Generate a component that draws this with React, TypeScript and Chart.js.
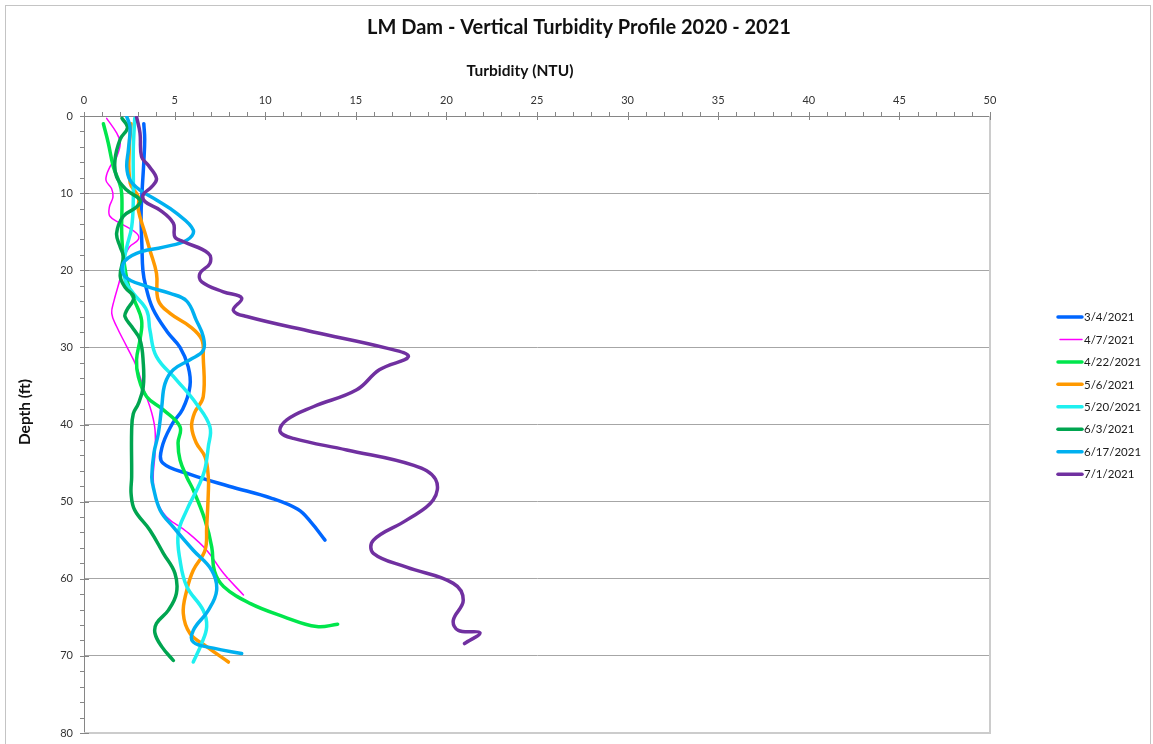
import React, { useEffect, useRef } from 'react';
import { Chart, registerables } from 'chart.js';

Chart.register(...registerables);

const chartTitle = 'LM Dam - Vertical Turbidity Profile 2020 - 2021';
const xAxisTitle = 'Turbidity (NTU)';
const yAxisTitle = 'Depth (ft)';

const seriesLabels = ['3/4/2021', '4/7/2021', '4/22/2021', '5/6/2021', '5/20/2021', '6/3/2021', '6/17/2021', '7/1/2021'];
const seriesColors = ['#0066FF', '#FF00FF', '#00E64C', '#FF9900', '#1EF0F0', '#00A550', '#00B0F0', '#7030A0'];
const seriesWidths = [3.5, 1.5, 3.5, 3.5, 3.5, 3.5, 3.5, 3.5];

// 3/4/2021
const turb0304 = [3.3, 3.35, 3.3, 3.2, 3.15, 3.2, 3.25, 3.4, 3.8, 4.6, 5.3, 5.75, 5.85, 5.45, 4.85, 4.3, 4.35, 5.9, 8.0, 10.4, 11.8, 12.5, 13.3];
const depth0304 = [1, 3, 6, 10, 13, 17, 20, 22, 25, 28, 30, 32.5, 35, 38, 40, 43, 45, 46.5, 48, 49.6, 51, 52.6, 55];
// 4/7/2021
const turb0407 = [1.25, 1.8, 2.0, 1.8, 1.43, 1.21, 1.52, 1.6, 1.4, 1.43, 2.0, 2.9, 3.0, 2.5, 2.17, 2.0, 1.65, 1.53, 1.8, 2.36, 2.9, 3.37, 3.74, 3.92, 3.92, 3.82, 4.0, 4.56, 5.67, 6.77, 7.7, 8.8];
const depth0407 = [0.3, 2.2, 3.5, 5.3, 6.6, 8.3, 9.4, 10.5, 11.8, 13, 13.9, 15.2, 16, 17, 18.7, 21, 24, 25.6, 27.3, 29.9, 32.5, 35.9, 38.5, 40.7, 43.7, 47, 49.8, 52, 53.9, 56.3, 59.3, 62.1];
// 4/22/2021
const turb0422 = [1.07, 1.34, 1.62, 1.9, 2.08, 2.08, 2.17, 2.45, 2.8, 3.18, 3.09, 2.9, 3.0, 3.46, 4.38, 5.3, 5.19, 5.3, 5.67, 6.03, 6.68, 7.05, 7.2, 7.7, 9.16, 11.0, 12.84, 14.0];
const depth0422 = [1, 3.5, 6.6, 8.3, 10, 15, 18.2, 22, 24, 26.5, 29, 31.6, 33.8, 36.4, 38.1, 40.3, 42.4, 44.6, 46.8, 48.5, 52.4, 55.9, 59, 61, 63.2, 64.9, 66.2, 65.9];
// 5/6/2021
const turb0506 = [2.6, 2.5, 2.55, 3.0, 3.0, 3.37, 3.64, 4.0, 4.1, 4.75, 5.85, 6.5, 6.58, 6.58, 6.1, 5.94, 6.2, 6.68, 6.86, 6.86, 6.77, 6.68, 6.03, 5.67, 5.48, 5.85, 6.77, 7.97];
const depth0506 = [1, 4, 8.7, 10.5, 12.2, 15.2, 17.4, 20.4, 23.9, 25.6, 27.3, 29, 31.2, 36.4, 38.5, 40.3, 42.4, 44.2, 46.8, 48.9, 53.3, 56.3, 58.9, 61.5, 64.5, 67.1, 68.8, 70.8];
// 5/20/2021
const turb0520 = [2.8, 2.72, 2.72, 2.63, 2.36, 2.17, 2.3, 2.72, 3.46, 3.64, 4.0, 5.1, 6.2, 6.95, 6.86, 6.65, 6.3, 5.67, 5.2, 5.3, 5.67, 6.58, 6.77, 6.49, 6.03];
const depth0520 = [0.3, 4.4, 10.9, 14.4, 17, 19.5, 21.5, 23, 25.2, 27.8, 31.2, 34.2, 37.3, 40.3, 42.9, 46, 48.1, 51.1, 54.1, 57.6, 61, 64.1, 66.2, 68.4, 70.8];
// 6/3/2021
const turb0603 = [2.1, 2.4, 2.0, 1.71, 1.8, 2.36, 3.09, 2.9, 2.17, 1.8, 2.0, 2.17, 2.0, 2.3, 2.75, 2.36, 2.26, 2.63, 3.09, 3.27, 3.27, 3.0, 2.72, 2.63, 2.63, 2.6, 2.8, 3.64, 4.38, 5.02, 5.1, 4.65, 4.0, 3.92, 4.29, 4.93];
const depth0603 = [0.3, 1.5, 3, 5.7, 7.9, 9.6, 10.9, 11.8, 13, 15.2, 17, 18.2, 20.8, 22.3, 23.5, 25.2, 26, 27.3, 29, 32, 35.1, 37.3, 38.6, 40.7, 46.8, 49, 51.1, 53.7, 56.7, 59.3, 61.9, 64.1, 65.8, 67.1, 68.8, 70.6];
// 6/17/2021
const turb0617 = [2.36, 2.54, 2.45, 2.36, 2.54, 3.09, 4.0, 5.1, 6.03, 5.67, 4.38, 2.9, 2.17, 2.26, 3.46, 4.75, 5.67, 6.2, 6.58, 6.58, 5.85, 4.93, 4.47, 4.29, 4.1, 3.86, 3.74, 3.82, 4.2, 4.93, 6.03, 7.05, 7.32, 6.86, 6.03, 6.03, 7.14, 8.7];
const depth0617 = [0.1, 1.4, 4.4, 6.6, 8.3, 9.6, 10.9, 12.6, 14.8, 16.1, 17, 17.8, 19.1, 20.8, 22.1, 23, 24, 26.5, 28.6, 30.4, 31.6, 32.9, 34.7, 37.7, 41.2, 43.7, 46.8, 48.1, 51.1, 53.3, 56.3, 58.9, 61.5, 64.1, 66.7, 68.2, 69, 69.7];
// 7/1/2021
const turb0701 = [2.9, 3.09, 3.18, 3.55, 4.0, 3.73, 3.27, 3.37, 4.19, 4.93, 5.02, 5.5, 6.86, 6.95, 6.4, 6.5, 7.69, 8.7, 8.24, 8.98, 12.65, 16.7, 17.9, 16.3, 15.05, 12.65, 11.19, 10.82, 11.55, 14.5, 18.2, 19.4, 19.27, 17.8, 15.97, 15.97, 17.8, 20.38, 20.93, 20.38, 20.66, 21.85, 21.0];
const depth0701 = [0.1, 2.2, 5.3, 6.4, 8.1, 9.2, 10.2, 11.1, 12.2, 13.9, 15.7, 16.3, 17.8, 19.1, 20.4, 21.5, 22.8, 23.6, 25.2, 26, 28, 30.1, 31.2, 32.9, 35.5, 37.7, 39.4, 40.9, 41.8, 43.3, 45.3, 47.1, 49.8, 52.4, 55, 56.7, 58.5, 60.6, 62.8, 65.4, 66.7, 67, 68.4];

const turbSeries = [turb0304, turb0407, turb0422, turb0506, turb0520, turb0603, turb0617, turb0701];
const depthSeries = [depth0304, depth0407, depth0422, depth0506, depth0520, depth0603, depth0617, depth0701];

const xMin = 0, xMax = 50, xStep = 5, xMinorStep = 1;
const yMin = 0, yMax = 80, yStep = 10, yMinorStep = 2;

const FONT = 'Lato, "Noto Sans", sans-serif';
const AXIS_COLOR = '#868686';
const GRID_COLOR = '#a6a6a6';
const FRAME_COLOR = '#cccccc';

const decorPlugin = {
  id: 'decor',
  beforeDraw(chart: any) {
    const { ctx, width, height } = chart;
    ctx.save();
    ctx.fillStyle = '#ffffff';
    ctx.fillRect(0, 0, width, height);
    ctx.strokeStyle = '#c4c4c4';
    ctx.lineWidth = 1;
    ctx.strokeRect(5.5, 5.5, 1145, height + 10);
    ctx.restore();
  },
  beforeDatasetsDraw(chart: any) {
    const { ctx, chartArea } = chart;
    const { left, right, top, bottom } = chartArea;
    ctx.save();
    ctx.strokeStyle = FRAME_COLOR;
    ctx.lineWidth = 2;
    ctx.beginPath();
    ctx.moveTo(right, top);
    ctx.lineTo(right, bottom);
    ctx.lineTo(left, bottom);
    ctx.stroke();
    ctx.restore();
  },
  afterDraw(chart: any) {
    const { ctx, chartArea } = chart;
    const { left, top } = chartArea;
    const xs = chart.scales.x;
    const ys = chart.scales.y;
    ctx.save();
    // tick marks
    ctx.strokeStyle = AXIS_COLOR;
    ctx.lineWidth = 1;
    for (let v = xMin; v <= xMax; v += xMinorStep) {
      const px = Math.round(xs.getPixelForValue(v)) + 0.5;
      const major = v % xStep === 0;
      ctx.beginPath();
      ctx.moveTo(px, top - 4);
      ctx.lineTo(px, major ? top + 4 : top);
      ctx.stroke();
    }
    for (let v = yMin; v <= yMax; v += yMinorStep) {
      const py = Math.round(ys.getPixelForValue(v)) + 0.5;
      const major = v % yStep === 0;
      ctx.beginPath();
      ctx.moveTo(left - 4, py);
      ctx.lineTo(major ? left + 5 : left, py);
      ctx.stroke();
    }
    // titles
    ctx.fillStyle = '#111111';
    ctx.textAlign = 'center';
    ctx.textBaseline = 'middle';
    ctx.font = `bold 20px ${FONT}`;
    ctx.fillText(chartTitle, 579, 28);
    ctx.font = `bold 15.5px ${FONT}`;
    ctx.fillText(xAxisTitle, 520, 71);
    ctx.save();
    ctx.translate(25, 412);
    ctx.rotate(-Math.PI / 2);
    ctx.fillText(yAxisTitle, 0, 0);
    ctx.restore();
    // legend
    const lx = 1058;
    const ly0 = 317;
    const dy = 22.45;
    ctx.font = `11.5px ${FONT}`;
    ctx.textAlign = 'left';
    ctx.lineCap = 'round';
    seriesLabels.forEach((lab, i) => {
      const y = ly0 + i * dy;
      ctx.strokeStyle = seriesColors[i];
      ctx.lineWidth = seriesWidths[i];
      ctx.beginPath();
      ctx.moveTo(lx + (seriesWidths[i] < 2 ? 2 : 0), y);
      ctx.lineTo(lx + 24, y);
      ctx.stroke();
      ctx.fillStyle = '#1a1a1a';
      ctx.fillText(lab, lx + 26, y + 0.5);
    });
    ctx.restore();
  },
};

export default function App() {
  const canvasRef = useRef<HTMLCanvasElement | null>(null);

  useEffect(() => {
    document.body.style.margin = '0';
    const canvas = canvasRef.current;
    if (!canvas) return;
    const datasets = seriesLabels.map((label, i) => ({
      label,
      data: turbSeries[i].map((t, j) => ({ x: t, y: depthSeries[i][j] })),
      borderColor: seriesColors[i],
      backgroundColor: seriesColors[i],
      borderWidth: seriesWidths[i],
      borderCapStyle: 'round' as const,
      borderJoinStyle: 'round' as const,
      pointRadius: 0,
      pointHoverRadius: 0,
      tension: 0.4,
      fill: false,
      order: seriesLabels.length - i,
    }));
    const chart = new Chart(canvas, {
      type: 'line',
      data: { datasets },
      plugins: [decorPlugin],
      options: {
        responsive: false,
        animation: false,
        parsing: true,
        layout: { padding: { top: 80, right: 163, bottom: 11, left: 0 } },
        plugins: {
          legend: { display: false },
          title: { display: false },
          tooltip: { enabled: false },
        },
        scales: {
          x: {
            type: 'linear',
            position: 'top',
            min: xMin,
            max: xMax,
            ticks: {
              stepSize: xStep,
              padding: 9,
              color: '#333333',
              font: { family: FONT, size: 11 },
            },
            grid: { display: false, drawTicks: false },
            border: { display: true, color: AXIS_COLOR, width: 1 },
            afterFit: (scale: any) => {
              scale.height = 36;
              scale.paddingLeft = 0;
              scale.paddingRight = 0;
            },
          },
          y: {
            type: 'linear',
            reverse: true,
            min: yMin,
            max: yMax,
            ticks: {
              stepSize: yStep,
              padding: 11,
              color: '#333333',
              font: { family: FONT, size: 11 },
            },
            grid: {
              drawTicks: false,
              lineWidth: 1,
              color: (c: any) =>
                c.tick && c.tick.value > yMin && c.tick.value < yMax ? GRID_COLOR : 'rgba(0,0,0,0)',
            },
            border: { display: true, color: AXIS_COLOR, width: 1 },
            afterFit: (scale: any) => {
              scale.width = 84;
              scale.paddingTop = 0;
              scale.paddingBottom = 0;
            },
          },
        },
      },
    });
    return () => chart.destroy();
  }, []);

  return (
    <div style={{ width: 1153, height: 744, position: 'relative', overflow: 'hidden' }}>
      <canvas ref={canvasRef} width={1153} height={744} style={{ display: 'block' }} />
    </div>
  );
}
